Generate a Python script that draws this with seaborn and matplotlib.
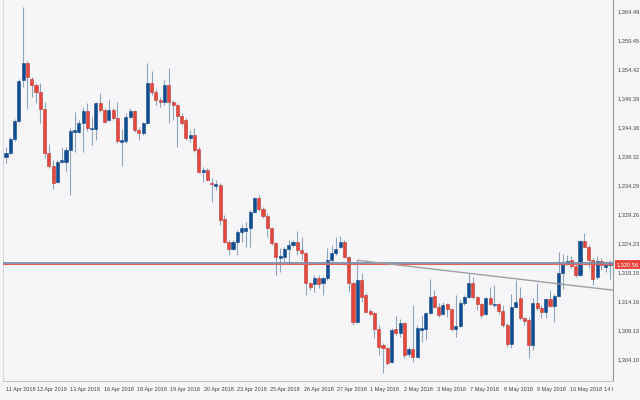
import matplotlib
matplotlib.use("Agg")
import matplotlib.pyplot as plt
from matplotlib.transforms import Bbox, TransformedBbox
import seaborn as sns
import pandas as pd
import numpy as np

# OHLC values (one bar per candle, left to right)
opens = [1339.2, 1339.9, 1342.4, 1345.5, 1352.6, 1355.6, 1352.8, 1351.7, 1350.5, 1347.6,
         1339.9, 1337.7, 1334.9, 1338.4, 1338.4, 1340.4, 1343.6, 1343.6, 1345.1, 1347.2,
         1344.1, 1344.1, 1348.6, 1347.4, 1345.7, 1347.4, 1346.0, 1341.8, 1342.0, 1346.2,
         1347.2, 1343.9, 1343.4, 1345.1, 1352.1, 1350.5, 1349.1, 1348.8, 1351.7, 1348.8,
         1348.3, 1346.4, 1345.7, 1342.5, 1343.0, 1340.6, 1336.6, 1337.0, 1334.7, 1334.2,
         1334.4, 1328.5, 1324.5, 1323.3, 1324.5, 1326.2, 1326.4, 1326.9, 1329.7, 1332.1,
         1330.2, 1329.0, 1326.9, 1324.3, 1321.7, 1321.9, 1323.3, 1323.9, 1324.5, 1323.1,
         1322.6, 1317.3, 1317.2, 1318.2, 1317.3, 1318.2, 1321.3, 1322.6, 1323.6, 1324.5,
         1321.9, 1317.3, 1310.6, 1317.9, 1315.3, 1312.5, 1312.1, 1309.4, 1306.6, 1306.1,
         1303.6, 1309.4, 1308.7, 1310.4, 1305.0, 1305.9, 1304.5, 1309.2, 1309.4, 1312.1,
         1315.1, 1313.2, 1312.0, 1313.7, 1312.8, 1309.4, 1309.9, 1313.9, 1314.9, 1317.3,
         1314.9, 1313.7, 1312.0, 1314.7, 1313.5, 1313.7, 1312.5, 1310.0, 1306.7, 1313.2,
         1314.7, 1311.3, 1310.9, 1306.6, 1313.9, 1313.0, 1312.3, 1314.6, 1313.3, 1315.1,
         1319.1, 1320.6, 1321.3, 1320.3, 1318.7, 1324.6, 1323.6, 1321.3, 1318.4, 1321.2,
         1320.1, 1320.5]
highs = [1341.0, 1342.7, 1345.8, 1352.8, 1365.3, 1355.9, 1353.1, 1352.1, 1352.1, 1348.8,
         1341.5, 1338.7, 1338.7, 1341.0, 1341.0, 1344.3, 1347.0, 1345.7, 1347.9, 1348.6,
         1346.2, 1348.8, 1350.3, 1347.7, 1349.3, 1347.7, 1348.8, 1344.1, 1346.9, 1347.7,
         1347.4, 1344.4, 1345.3, 1355.6, 1354.2, 1351.0, 1349.6, 1352.6, 1354.7, 1349.1,
         1348.6, 1346.9, 1346.0, 1343.9, 1344.3, 1341.0, 1337.5, 1337.3, 1335.6, 1335.2,
         1334.7, 1329.2, 1324.8, 1324.8, 1326.5, 1327.4, 1327.9, 1330.0, 1332.3, 1332.6,
         1330.5, 1329.5, 1327.1, 1324.5, 1323.4, 1323.6, 1324.8, 1324.8, 1326.4, 1325.3,
         1322.7, 1317.5, 1318.7, 1318.7, 1318.4, 1323.4, 1323.9, 1325.3, 1325.5, 1324.8,
         1322.0, 1317.5, 1321.3, 1319.1, 1315.6, 1312.8, 1312.3, 1310.0, 1306.9, 1306.2,
         1309.5, 1311.6, 1311.1, 1310.6, 1306.2, 1313.5, 1310.0, 1311.8, 1312.3, 1318.0,
         1316.1, 1313.9, 1314.0, 1313.9, 1313.0, 1315.3, 1314.4, 1315.3, 1319.1, 1318.4,
         1315.1, 1313.9, 1314.9, 1316.6, 1317.0, 1313.9, 1313.5, 1310.4, 1315.4, 1317.9,
         1316.6, 1311.4, 1311.4, 1314.7, 1317.3, 1313.5, 1314.7, 1316.1, 1315.4, 1322.7,
         1322.4, 1322.2, 1322.0, 1320.6, 1324.8, 1326.0, 1323.9, 1321.7, 1322.0, 1321.7,
         1321.2, 1321.3]
lows = [1338.2, 1339.8, 1342.0, 1345.3, 1351.4, 1347.6, 1349.6, 1348.6, 1345.1, 1339.1,
        1337.3, 1333.7, 1334.7, 1338.2, 1336.6, 1332.6, 1340.1, 1343.4, 1340.1, 1343.7,
        1341.3, 1342.2, 1347.0, 1345.1, 1345.5, 1345.7, 1341.7, 1337.7, 1341.7, 1346.0,
        1343.6, 1342.2, 1343.0, 1345.0, 1350.0, 1348.3, 1347.9, 1348.3, 1345.1, 1345.7,
        1341.0, 1344.8, 1342.2, 1341.8, 1340.1, 1336.5, 1334.9, 1335.1, 1331.4, 1333.5,
        1327.4, 1324.3, 1322.2, 1323.1, 1322.2, 1324.5, 1323.6, 1323.6, 1329.5, 1329.8,
        1328.6, 1325.3, 1323.9, 1318.7, 1319.2, 1320.8, 1320.8, 1323.6, 1322.2, 1321.3,
        1315.3, 1316.1, 1315.8, 1316.5, 1315.3, 1317.9, 1321.0, 1322.2, 1323.4, 1321.7,
        1315.8, 1310.0, 1310.4, 1314.0, 1312.1, 1311.8, 1307.8, 1304.8, 1301.7, 1303.1,
        1303.4, 1308.3, 1308.0, 1304.3, 1304.5, 1303.6, 1304.3, 1307.1, 1307.4, 1312.0,
        1313.0, 1311.4, 1311.8, 1311.4, 1309.0, 1308.0, 1309.7, 1313.5, 1314.7, 1314.6,
        1312.7, 1311.3, 1311.8, 1313.5, 1313.2, 1312.0, 1309.7, 1306.2, 1306.1, 1313.0,
        1310.9, 1310.0, 1304.3, 1305.7, 1312.7, 1311.3, 1311.3, 1313.2, 1310.6, 1314.9,
        1316.3, 1320.5, 1319.9, 1318.4, 1318.6, 1323.6, 1319.9, 1317.0, 1318.0, 1319.6,
        1319.3, 1318.0]
closes = [1339.9, 1342.4, 1345.5, 1352.4, 1355.6, 1353.1, 1351.7, 1350.5, 1347.6, 1339.9,
          1337.7, 1334.7, 1338.4, 1338.5, 1340.4, 1343.7, 1343.7, 1345.1, 1347.2, 1344.3,
          1344.3, 1348.6, 1347.4, 1345.3, 1347.4, 1346.0, 1342.0, 1342.2, 1346.2, 1347.2,
          1343.9, 1343.4, 1345.1, 1352.1, 1350.5, 1349.1, 1348.8, 1351.7, 1348.8, 1348.3,
          1346.4, 1345.1, 1342.5, 1343.0, 1340.4, 1336.6, 1337.0, 1335.2, 1334.5, 1334.5,
          1328.3, 1324.5, 1323.3, 1324.5, 1326.2, 1326.9, 1326.9, 1329.7, 1332.1, 1330.2,
          1329.0, 1326.9, 1324.3, 1321.9, 1321.9, 1323.3, 1323.9, 1324.5, 1323.1, 1322.6,
          1317.3, 1316.6, 1318.2, 1317.2, 1318.2, 1321.3, 1322.6, 1323.3, 1324.5, 1321.9,
          1317.3, 1310.6, 1317.9, 1314.9, 1312.3, 1312.0, 1309.4, 1306.2, 1306.1, 1303.4,
          1309.2, 1308.7, 1310.4, 1304.8, 1305.9, 1304.5, 1309.5, 1309.5, 1312.1, 1314.9,
          1313.2, 1311.8, 1313.5, 1312.8, 1309.4, 1309.9, 1313.9, 1314.9, 1317.3, 1314.9,
          1313.7, 1311.8, 1314.7, 1313.7, 1313.7, 1312.5, 1310.0, 1306.7, 1313.2, 1314.0,
          1311.3, 1310.7, 1306.6, 1313.9, 1313.0, 1312.3, 1314.6, 1313.3, 1315.1, 1319.1,
          1320.6, 1321.2, 1320.3, 1318.7, 1324.6, 1323.6, 1321.3, 1318.0, 1321.2, 1320.5,
          1320.5, 1320.56]

date_labels = ["11 Apr 2018", "12 Apr 2018", "13 Apr 2018", "16 Apr 2018", "18 Apr 2018",
               "19 Apr 2018", "20 Apr 2018", "23 Apr 2018", "25 Apr 2018", "26 Apr 2018",
               "27 Apr 2018", "1 May 2018", "2 May 2018", "3 May 2018", "7 May 2018",
               "8 May 2018", "9 May 2018", "10 May 2018", "14 May 2018"]
# bar index where each date label starts
date_bars = [-0.7, 6.5, 14.2, 22.1, 29.8, 37.5, 45.5, 53.1, 60.8, 68.8,
             76.5, 84.1, 92.1, 99.8, 107.5, 115.4, 123.1, 130.8, 138.7]

price_ticks = [1304.10, 1309.13, 1314.16, 1319.19, 1324.23, 1329.26, 1334.29,
               1339.32, 1344.36, 1349.39, 1354.42, 1359.45, 1364.49]

bid_price = 1320.56
ask_price = 1320.90
trend_bars = [82, 141.7]
trend_prices = [1321.3, 1316.1]

sns.set_theme(style="white")
plt.rcParams['font.family'] = ['Liberation Sans', 'DejaVu Sans']

BG = '#f6f6f8'
UP = '#114c8e'
DOWN = '#e4473d'
DOWN_EDGE = '#c13a31'
WICK = '#8ea5c0'
TXT = '#444444'

df = pd.DataFrame({'open': opens, 'high': highs, 'low': lows, 'close': closes})
df['bar'] = np.arange(len(df))
df['up'] = df['close'] >= df['open']

fig = plt.figure(figsize=(6.4, 4), dpi=100, facecolor=BG)
ax = fig.add_axes([3 / 640, 19 / 400, 610 / 640, 381 / 400])
ax.set_facecolor(BG)

# wicks, then bodies
ax.vlines(df['bar'], df['low'], df['high'], color=WICK, lw=0.8, zorder=2)
body_bottom = df[['open', 'close']].min(axis=1)
body_h = (df['close'] - df['open']).abs().clip(lower=0.25)
face = np.where(df['up'], UP, DOWN)
edge = np.where(df['up'], UP, DOWN_EDGE)
ax.bar(df['bar'], body_h, bottom=body_bottom, width=0.72,
       color=face, edgecolor=edge, lw=0.4, zorder=3)

# price lines and trend line
ax.axhline(ask_price, color='#7a8fab', lw=1.3, zorder=4)
ax.axhline(bid_price, color='#e8615a', lw=0.8, zorder=4)
ax.plot(trend_bars, trend_prices, color='#a0a0a0', lw=1.0, zorder=4)

ax.set_xlim(-0.47, 141.7)
ax.set_ylim(1300.32, 1366.5)

ax.spines['top'].set_visible(False)
ax.spines['right'].set_color('#9a9a9a')
ax.spines['bottom'].set_color('#c4c4c4')
ax.spines['left'].set_color('#d8d8d8')
for s in ['right', 'bottom', 'left']:
    ax.spines[s].set_linewidth(0.8)

# right price axis
ax.yaxis.tick_right()
ax.set_yticks(price_ticks)
ax.set_yticklabels([f"{v:,.2f}" for v in price_ticks])
ax.tick_params(axis='y', length=0, pad=3, labelsize=4.1, labelcolor=TXT)

# date separators as ticks, labels as text
ax.set_xticks(date_bars)
ax.set_xticklabels([])
ax.tick_params(axis='x', length=11, width=0.6, color='#d0d0d0', direction='out')

clip = TransformedBbox(Bbox([[0, 0], [613 / 640, 1]]), fig.transFigure)
for b, lbl in zip(date_bars, date_labels):
    t = ax.text(b + 0.8, -9 / 381, lbl, transform=ax.get_xaxis_transform(),
                ha='left', va='center', fontsize=4.0, color=TXT)
    t.set_clip_box(clip)
    t.set_clip_on(True)

# current price tag
ax.text(1 + 4 / 610, bid_price, f"{bid_price:,.2f}", transform=ax.get_yaxis_transform(),
        ha='left', va='center', fontsize=4.1, color='white', zorder=6, clip_on=False,
        bbox=dict(boxstyle='square,pad=0.35', fc='#e8453c', ec='none'))

fig.savefig('out.png', dpi=100, facecolor=BG)
